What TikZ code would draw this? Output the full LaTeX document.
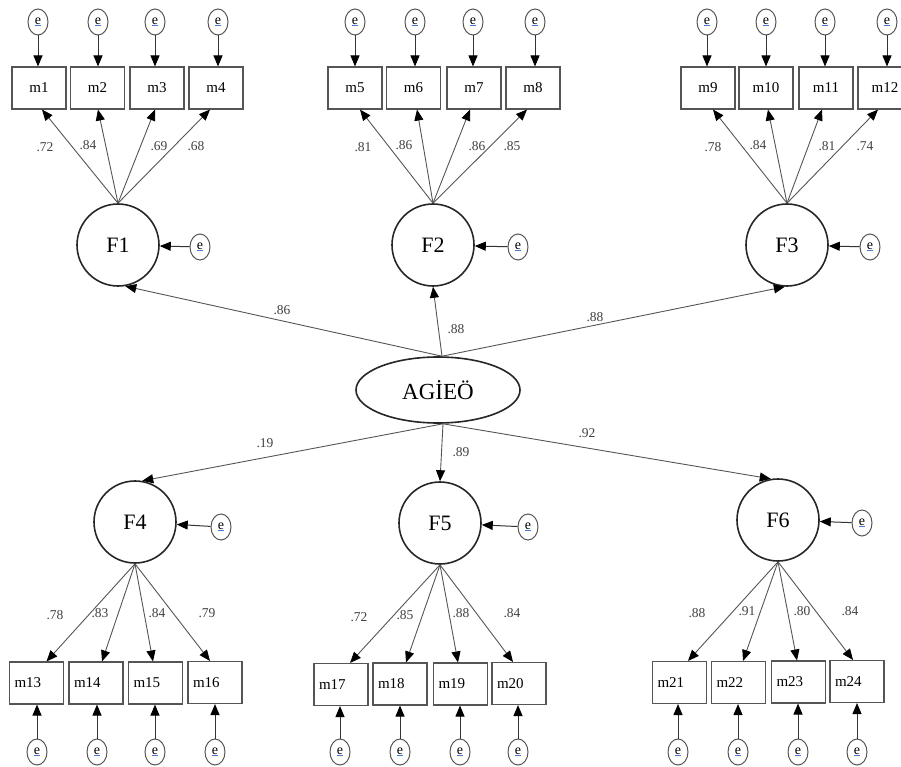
\documentclass[tikz,border=0pt]{standalone}
\usepackage{fontspec}
\setmainfont{Liberation Serif}
\usetikzlibrary{arrows.meta,calc,shapes.geometric}
\definecolor{lg}{RGB}{85,85,85}
\definecolor{eblue}{RGB}{70,120,220}
\tikzset{
  box/.style={draw=lg, line width=1.1pt, minimum width=54pt, minimum height=42pt, inner sep=0pt, font=\fontsize{15}{15}\selectfont},
  lbox/.style={box, text width=44pt, align=left},
  fac/.style={circle, draw=black!85, line width=1.6pt, minimum size=82pt, inner sep=0pt, font=\fontsize{22}{22}\selectfont},
  gen/.style={ellipse, draw=black!85, line width=1.6pt, minimum width=164pt, minimum height=66pt, inner sep=0pt, font=\fontsize{23}{23}\selectfont},
  err/.style={ellipse, draw=lg, line width=1pt, minimum width=20pt, minimum height=26pt, inner sep=0pt, font=\fontsize{14}{14}\selectfont},
  arr/.style={-{Triangle[length=11pt,width=9pt,black]}, draw=lg, line width=0.9pt},
  earr/.style={-{Triangle[length=11pt,width=9pt,black]}, draw=black!80, line width=1pt},
  lab/.style={font=\fontsize{13.5}{13.5}\selectfont, text=black!75, inner sep=0pt},
}
\newcommand{\etxt}{e\llap{\textcolor{eblue}{\rule[-2pt]{6pt}{1.3pt}}}}
\begin{document}
\begin{tikzpicture}[x=1pt,y=-1pt]
\useasboundingbox (0,0) rectangle (901,767);
\clip (0,0) rectangle (901,767);
% general factor
\node[gen] (A) at (438,390) {AGİEÖ};
% first-order factors
\node[fac] (F1) at (118,245) {F1};
\node[fac] (F2) at (433,245) {F2};
\node[fac] (F3) at (787,245) {F3};
\node[fac] (F4) at (135,522) {F4};
\node[fac] (F5) at (440,523) {F5};
\node[fac] (F6) at (778,520) {F6};
% factor errors
\node[err] (d1) at (200,247) {\etxt};
\node[err] (d2) at (518,247) {\etxt};
\node[err] (d3) at (870,247) {\etxt};
\node[err] (d4) at (221,527) {\etxt};
\node[err] (d5) at (528,527) {\etxt};
\node[err] (d6) at (862,523) {\etxt};
\foreach \i in {1,...,6} \draw[earr] (d\i) -- (F\i);
% top boxes
\foreach \n/\x in {1/39,2/97.5,3/157,4/216,5/355,6/413.5,7/474,8/533,9/708,10/766,11/826,12/885}{
  \node[box] (m\n) at (\x,88) {m\n};
}
% top errors
\foreach \n/\x in {1/38,2/98,3/155,4/218,5/355,6/415,7/473,8/535,9/707,10/766,11/825,12/887}{
  \node[err] (e\n) at (\x,22) {\etxt};
  \draw[earr] (e\n) -- (e\n |- m\n.north);
}
% bottom boxes
\foreach \n/\x/\y in {13/36.5/683,14/96/683,15/155.5/683,16/215/682.5,17/341/684.5,18/400/684,19/460.5/684,20/519/683.5,21/679.5/682.5,22/738.5/682.5,23/798.5/682,24/857/681.5}{
  \node[lbox] (m\n) at (\x,\y) {m\n};
}
% bottom errors
\foreach \n/\x in {13/37,14/97,15/155,16/215,17/340,18/400,19/460,20/518,21/678,22/738,23/798,24/857}{
  \node[err] (e\n) at (\x,752) {\etxt};
  \draw[earr] (e\n) -- (e\n |- m\n.south);
}
% loadings top
\foreach \n/\d in {1/3,2/0.5,3/-2,4/-6}{ \draw[arr] (F1.north) -- ($(m\n.south)+(\d,0)$); }
\foreach \n/\d in {5/5,6/3.5,7/-4,8/-6}{ \draw[arr] (F2.north) -- ($(m\n.south)+(\d,0)$); }
\foreach \n/\d in {9/5,10/2,11/-4,12/-7}{ \draw[arr] (F3.north) -- ($(m\n.south)+(\d,0)$); }
% loadings bottom
\foreach \n/\d in {13/10,14/6,15/-2.5,16/-5}{ \draw[arr] (F4.south) -- ($(m\n.north)+(\d,0)$); }
\foreach \n/\d in {17/9,18/6,19/-2.5,20/-6}{ \draw[arr] (F5.south) -- ($(m\n.north)+(\d,0)$); }
\foreach \n/\d in {21/8.5,22/4.5,23/-1.5,24/-4}{ \draw[arr] (F6.south) -- ($(m\n.north)+(\d,0)$); }
% second-order paths
\draw[arr] ($(A.north)+(4,0)$) -- (F1.-80);
\draw[arr] ($(A.north)+(4,0)$) -- (F2.south);
\draw[arr] ($(A.north)+(4,0)$) -- (F3.-93);
\draw[arr] ($(A.south)+(5,0)$) -- (F4.80);
\draw[arr] ($(A.south)+(5,0)$) -- (F5.north);
\draw[arr] ($(A.south)+(5,0)$) -- (F6.100);
% labels
\foreach \t/\x/\y in {.72/45/147,.84/88/145,.69/159/146,.68/196/146,
  .81/363/147,.86/404/145,.86/477/146,.85/512/146,
  .78/713/147,.84/758/145,.81/827/146,.74/865/146,
  .86/282/310,.88/456/329,.88/595/317,
  .19/265/443,.89/461/452,.92/587/433,
  .78/55/615,.83/100/613,.84/157/613,.79/207/613,
  .72/359/617,.85/405/615,.88/461/613,.84/512/613,
  .88/697/613,.91/747/611,.80/802/611,.84/850/611}{
  \node[lab] at (\x,\y) {\t};
}
\end{tikzpicture}
\end{document}
